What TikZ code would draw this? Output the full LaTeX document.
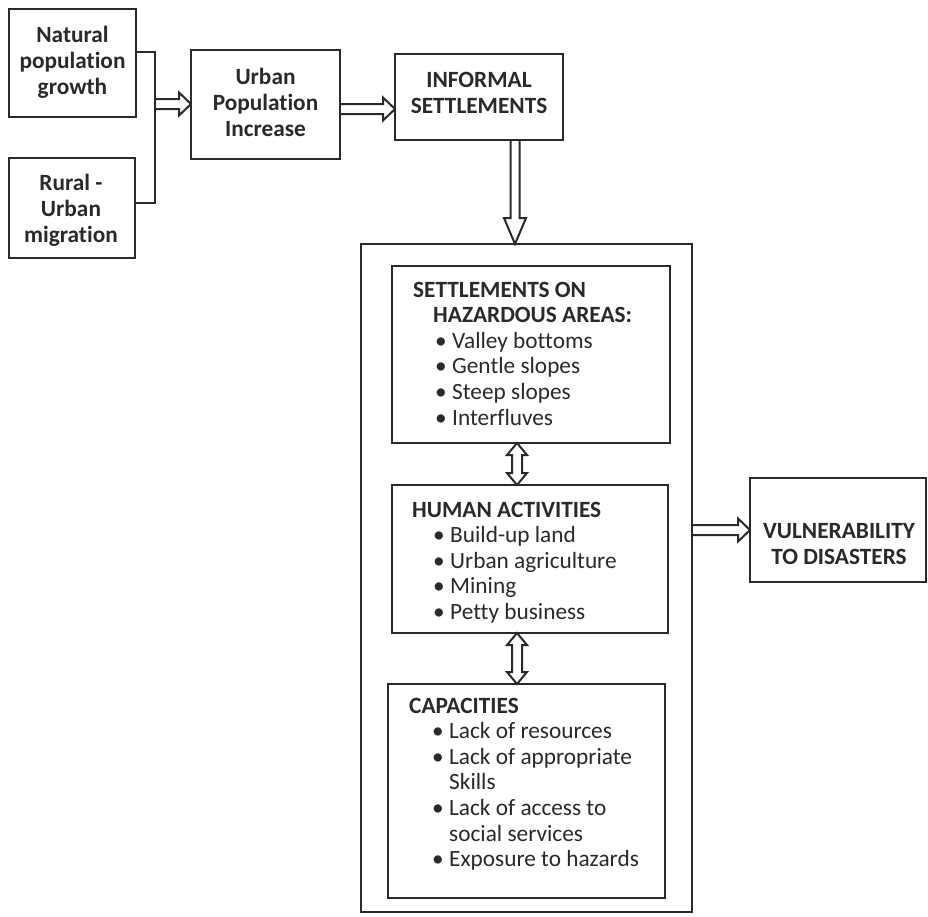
\documentclass[tikz,border=0pt]{standalone}
\usepackage{fontspec}
\setmainfont[Ligatures=NoCommon]{Carlito}
\usetikzlibrary{calc}
\definecolor{ink}{RGB}{42,42,42}
\newcommand\itm[1]{\makebox[17pt][l]{•}#1}
\newcommand\tlines[2]{\begin{tabular}[t]{@{}#1@{}}#2\end{tabular}}
\begin{document}
\begin{tikzpicture}[x=1pt,y=-1pt,
  box/.style={draw=ink, line width=2.2pt, inner sep=0pt, outer sep=0pt, anchor=north west},
  ttxt/.style={inner sep=0pt, text=ink, anchor=base, font=\fontsize{23.3}{26}\selectfont\bfseries},
  ltxt/.style={inner sep=0pt, text=ink, anchor=base west, font=\fontsize{23.3}{25.6}\selectfont},
  conn/.style={draw=ink, line width=2.2pt, line join=miter},
  arrR/.style={draw=ink, line width=2pt, line join=miter,
    to path={let \p1=(\tikztostart), \p2=(\tikztotarget) in
      (\x1,\y1+5pt) -- (\x2-12pt,\y1+5pt) -- (\x2-12pt,\y1+11.5pt) -- (\x2,\y1)
      -- (\x2-12pt,\y1-11.5pt) -- (\x2-12pt,\y1-5pt) -- (\x1,\y1-5pt)}},
  arrD/.style={draw=ink, line width=2pt, line join=miter,
    to path={let \p1=(\tikztostart), \p2=(\tikztotarget) in
      (\x1-4.5pt,\y1) -- (\x1-4.5pt,\y2+26pt) -- (\x1-11pt,\y2+26pt) -- (\x1,\y2)
      -- (\x1+11pt,\y2+26pt) -- (\x1+4.5pt,\y2+26pt) -- (\x1+4.5pt,\y1)}},
  arrUD/.style={draw=ink, line width=2pt, line join=miter,
    to path={let \p1=(\tikztostart), \p2=(\tikztotarget) in
      (\x1,\y1) -- (\x1+10pt,\y1-12pt) -- (\x1+5pt,\y1-12pt) -- (\x1+5pt,\y2+12pt)
      -- (\x1+10pt,\y2+12pt) -- (\x1,\y2) -- (\x1-10pt,\y2+12pt) -- (\x1-5pt,\y2+12pt)
      -- (\x1-5pt,\y1-12pt) -- (\x1-10pt,\y1-12pt) -- cycle}}
]
\fill[white] (0,0) rectangle (928,916);
\useasboundingbox (0,0) rectangle (928,916);

% boxes
\node[box, minimum width=127pt, minimum height=108pt] (nat) at (9,9) {};
\node[box, minimum width=126pt, minimum height=100pt] (rur) at (9,158) {};
\node[box, minimum width=149pt, minimum height=109pt] (urb) at (191,50) {};
\node[box, minimum width=168pt, minimum height=86pt] (inf) at (395,54) {};
\node[box, minimum width=331pt, minimum height=668pt] (big) at (361,244) {};
\node[box, minimum width=278pt, minimum height=177pt] (set) at (392,266) {};
\node[box, minimum width=276pt, minimum height=148pt] (hum) at (392,485) {};
\node[box, minimum width=277pt, minimum height=214pt] (cap) at (388,684) {};
\node[box, minimum width=176pt, minimum height=104pt] (vul) at (750,478) {};

% texts
\node[ttxt] (nattxt) at (72.5,42) {\tlines{c}{Natural\\population\\growth}};
\node[ttxt] (rurtxt) at (71,190) {\tlines{c}{Rural -\\Urban\\migration}};
\node[ttxt] (urbtxt) at (265.5,84) {\tlines{c}{Urban\\Population\\Increase}};
\node[ttxt] (inftxt) at (479,87) {\tlines{c}{INFORMAL\\SETTLEMENTS}};
\node[ttxt] (vultxt) at (839,538) {\tlines{c}{VULNERABILITY\\TO DISASTERS}};

\node[ltxt] (settxt) at (413,297) {\tlines{l}{\textbf{SETTLEMENTS ON}\\
  \hspace*{20pt}\textbf{HAZARDOUS AREAS:}\\
  \hspace*{22pt}\itm{Valley bottoms}\\
  \hspace*{22pt}\itm{Gentle slopes}\\
  \hspace*{22pt}\itm{Steep slopes}\\
  \hspace*{22pt}\itm{Interfluves}}};
\node[ltxt] (humtxt) at (412,517) {\tlines{l}{\textbf{HUMAN ACTIVITIES}\\
  \hspace*{21pt}\itm{Build-up land}\\
  \hspace*{21pt}\itm{Urban agriculture}\\
  \hspace*{21pt}\itm{Mining}\\
  \hspace*{21pt}\itm{Petty business}}};
\node[ltxt] (captxt) at (409,713) {\tlines{l}{\textbf{CAPACITIES}\\
  \hspace*{23pt}\itm{Lack of resources}\\
  \hspace*{23pt}\itm{Lack of appropriate}\\
  \hspace*{40pt}Skills\\
  \hspace*{23pt}\itm{Lack of access to}\\
  \hspace*{40pt}social services\\
  \hspace*{23pt}\itm{Exposure to hazards}}};

% connectors
\coordinate (b1) at (155,52);
\coordinate (b2) at (155,203);
\coordinate (brk) at (155,104);
\draw[conn] (nat.east |- b1) -- (b1) -- (b2) -- (rur.east |- b2);
\draw[arrR] (brk) to (urb.west |- brk);
\coordinate (a2) at (340,109);
\draw[arrR] (urb.east |- a2) to (inf.west |- a2);
\coordinate (a3) at (515,0);
\draw[arrD] (inf.south -| a3) to (big.north -| a3);
\coordinate (d) at (517,0);
\draw[arrUD] (set.south -| d) to (hum.north -| d);
\draw[arrUD] (hum.south -| d) to (cap.north -| d);
\coordinate (v) at (0,530);
\draw[arrR] (big.east |- v) to (vul.west |- v);
\end{tikzpicture}
\end{document}
